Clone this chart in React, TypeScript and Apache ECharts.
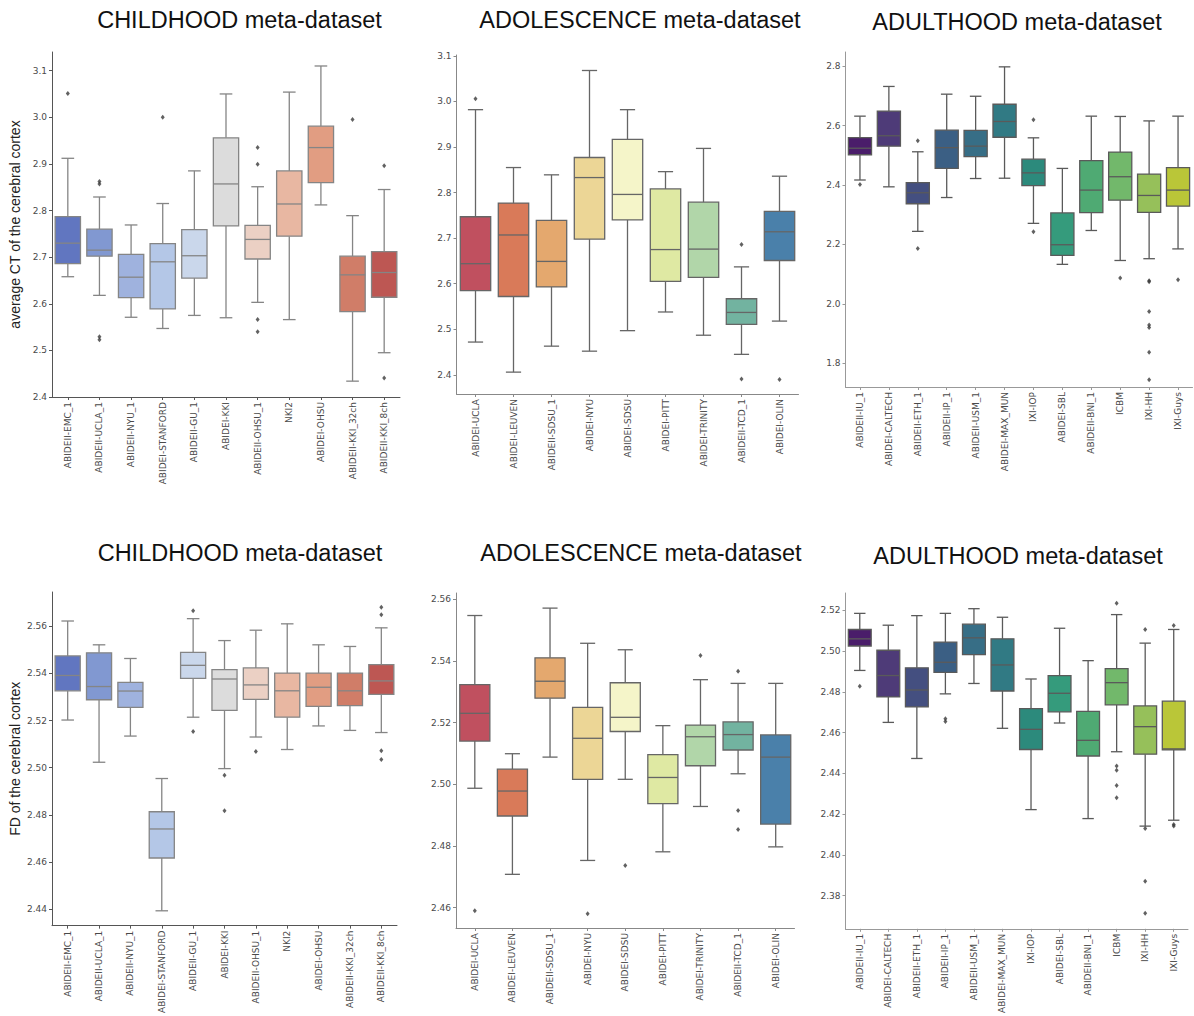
import React, { useEffect, useRef } from 'react';
import * as echarts from 'echarts';

// ---------- categories ----------
const childSites = ['ABIDEII-EMC_1', 'ABIDEII-UCLA_1', 'ABIDEII-NYU_1', 'ABIDEI-STANFORD', 'ABIDEII-GU_1', 'ABIDEI-KKI', 'ABIDEII-OHSU_1', 'NKI2', 'ABIDEI-OHSU', 'ABIDEII-KKI_32ch', 'ABIDEII-KKI_8ch'];
const adolSites = ['ABIDEI-UCLA', 'ABIDEI-LEUVEN', 'ABIDEII-SDSU_1', 'ABIDEI-NYU', 'ABIDEI-SDSU', 'ABIDEI-PITT', 'ABIDEI-TRINITY', 'ABIDEII-TCD_1', 'ABIDEI-OLIN'];
const adultSites = ['ABIDEII-IU_1', 'ABIDEI-CALTECH', 'ABIDEII-ETH_1', 'ABIDEII-IP_1', 'ABIDEII-USM_1', 'ABIDEI-MAX_MUN', 'IXI-IOP', 'ABIDEI-SBL', 'ABIDEII-BNI_1', 'ICBM', 'IXI-HH', 'IXI-Guys'];

// ---------- box stats: [min whisker, Q1, median, Q3, max whisker] ----------
const childCT = [
  [2.658, 2.686, 2.730, 2.787, 2.912],
  [2.618, 2.702, 2.715, 2.760, 2.829],
  [2.571, 2.613, 2.657, 2.706, 2.769],
  [2.547, 2.589, 2.690, 2.729, 2.815],
  [2.575, 2.655, 2.703, 2.759, 2.885],
  [2.570, 2.767, 2.857, 2.956, 3.050],
  [2.603, 2.696, 2.738, 2.768, 2.851],
  [2.566, 2.745, 2.814, 2.885, 3.054],
  [2.812, 2.860, 2.935, 2.981, 3.110],
  [2.434, 2.583, 2.662, 2.702, 2.789],
  [2.495, 2.614, 2.667, 2.712, 2.845],
];
const childCTOut = [[0, 3.051], [1, 2.862], [1, 2.857], [1, 2.529], [1, 2.523], [3, 3.0], [6, 2.935], [6, 2.899], [6, 2.566], [6, 2.540], [9, 2.995], [10, 2.896], [10, 2.441]];

const adolCT = [
  [2.472, 2.585, 2.644, 2.747, 2.982],
  [2.406, 2.572, 2.707, 2.777, 2.855],
  [2.463, 2.593, 2.649, 2.739, 2.839],
  [2.452, 2.698, 2.833, 2.877, 3.068],
  [2.497, 2.740, 2.796, 2.917, 2.982],
  [2.538, 2.605, 2.675, 2.808, 2.846],
  [2.487, 2.614, 2.676, 2.779, 2.897],
  [2.445, 2.511, 2.537, 2.567, 2.637],
  [2.518, 2.651, 2.714, 2.759, 2.836],
];
const adolCTOut = [[0, 3.006], [7, 2.686], [7, 2.391], [8, 2.390]];

const adultCT = [
  [2.417, 2.502, 2.524, 2.560, 2.632],
  [2.394, 2.531, 2.566, 2.649, 2.732],
  [2.244, 2.337, 2.374, 2.408, 2.512],
  [2.358, 2.456, 2.526, 2.585, 2.706],
  [2.422, 2.496, 2.531, 2.584, 2.699],
  [2.423, 2.561, 2.614, 2.672, 2.798],
  [2.271, 2.398, 2.441, 2.487, 2.559],
  [2.133, 2.163, 2.199, 2.306, 2.456],
  [2.247, 2.307, 2.383, 2.482, 2.632],
  [2.146, 2.349, 2.428, 2.511, 2.631],
  [2.152, 2.308, 2.365, 2.437, 2.616],
  [2.185, 2.329, 2.383, 2.459, 2.632],
];
const adultCTOut = [[0, 2.402], [2, 2.549], [2, 2.186], [6, 2.620], [6, 2.243], [9, 2.087], [10, 2.078], [10, 2.074], [10, 1.974], [10, 1.929], [10, 1.920], [10, 1.837], [10, 1.744], [11, 2.081]];

const childFD = [
  [2.5202, 2.5326, 2.5391, 2.5474, 2.5622],
  [2.5023, 2.5288, 2.5344, 2.5487, 2.5521],
  [2.5134, 2.5256, 2.5325, 2.5362, 2.5463],
  [2.4393, 2.4617, 2.4740, 2.4813, 2.4954],
  [2.5214, 2.5379, 2.5434, 2.5489, 2.5632],
  [2.4996, 2.5243, 2.5376, 2.5416, 2.5539],
  [2.5130, 2.5290, 2.5351, 2.5423, 2.5583],
  [2.5077, 2.5214, 2.5326, 2.5401, 2.5610],
  [2.5177, 2.5260, 2.5341, 2.5401, 2.5521],
  [2.5158, 2.5263, 2.5326, 2.5401, 2.5514],
  [2.5149, 2.5311, 2.5368, 2.5437, 2.5593],
];
const childFDOut = [[4, 2.5666], [4, 2.5153], [5, 2.4968], [5, 2.4817], [6, 2.5069], [10, 2.5680], [10, 2.5648], [10, 2.5072], [10, 2.5035]];

const adolFD = [
  [2.4987, 2.5140, 2.5230, 2.5323, 2.5547],
  [2.4708, 2.4897, 2.4978, 2.5049, 2.5099],
  [2.5088, 2.5279, 2.5334, 2.5410, 2.5571],
  [2.4753, 2.5016, 2.5149, 2.5249, 2.5457],
  [2.5016, 2.5171, 2.5217, 2.5329, 2.5436],
  [2.4781, 2.4937, 2.5022, 2.5096, 2.5190],
  [2.4928, 2.5060, 2.5154, 2.5192, 2.5339],
  [2.5034, 2.5111, 2.5161, 2.5202, 2.5327],
  [2.4797, 2.4871, 2.5088, 2.5160, 2.5327],
];
const adolFDOut = [[0, 2.4590], [3, 2.4580], [4, 2.4737], [6, 2.5417], [7, 2.5366], [7, 2.4915], [7, 2.4853]];

const adultFD = [
  [2.4905, 2.5025, 2.5060, 2.5106, 2.5185],
  [2.4650, 2.4775, 2.4880, 2.5004, 2.5127],
  [2.4473, 2.4726, 2.4809, 2.4918, 2.5174],
  [2.4790, 2.4895, 2.4945, 2.5044, 2.5185],
  [2.4841, 2.4983, 2.5065, 2.5132, 2.5208],
  [2.4621, 2.4804, 2.4932, 2.5060, 2.5166],
  [2.4222, 2.4517, 2.4616, 2.4718, 2.4863],
  [2.4647, 2.4702, 2.4793, 2.4880, 2.5112],
  [2.4178, 2.4485, 2.4562, 2.4704, 2.4953],
  [2.4506, 2.4736, 2.4845, 2.4914, 2.5179],
  [2.4141, 2.4494, 2.4629, 2.4731, 2.5039],
  [2.4170, 2.4515, 2.4520, 2.4754, 2.5106],
];
const adultFDOut = [[0, 2.4828], [3, 2.4668], [3, 2.4655], [9, 2.5235], [9, 2.4436], [9, 2.4415], [9, 2.4340], [9, 2.4280], [10, 2.5106], [10, 2.4129], [10, 2.3870], [10, 2.3714], [11, 2.5125], [11, 2.4149], [11, 2.4141]];

// ---------- tick labels ----------
const ticksChildCT = [2.4, 2.5, 2.6, 2.7, 2.8, 2.9, 3.0, 3.1];
const ticksAdolCT = [2.4, 2.5, 2.6, 2.7, 2.8, 2.9, 3.0, 3.1];
const ticksAdultCT = [1.8, 2.0, 2.2, 2.4, 2.6, 2.8];
const ticksChildFD = [2.44, 2.46, 2.48, 2.50, 2.52, 2.54, 2.56];
const ticksAdolFD = [2.46, 2.48, 2.50, 2.52, 2.54, 2.56];
const ticksAdultFD = [2.38, 2.40, 2.42, 2.44, 2.46, 2.48, 2.50, 2.52];

// ---------- palettes ----------
const coolwarm = ['#6176c0', '#8198d1', '#9fb2de', '#b4c7e7', '#cad7eb', '#dcdcdc', '#ebd0c4', '#e8b7a2', '#e19d82', '#d07d68', '#bd5753'];
const spectral = ['#c0505f', '#d97a59', '#e4a86e', '#ecd696', '#f5f5c9', '#dfe9a3', '#b1d6a9', '#72b3a0', '#4a80aa'];
const viridis = ['#4a1d6a', '#4e3b78', '#444f80', '#3b5f84', '#376e86', '#317a84', '#2c8a7c', '#359b7c', '#4faa73', '#72b86b', '#96c05a', '#bac638'];

const titles = ['CHILDHOOD meta-dataset', 'ADOLESCENCE meta-dataset', 'ADULTHOOD meta-dataset'];

export default function App() {
  const ref = useRef<HTMLDivElement>(null);
  useEffect(() => {
    if (!ref.current) return;
    const chart = echarts.init(ref.current, undefined, { renderer: 'svg' });

    const panels = [
      { grid: { left: 52, top: 52, width: 348, height: 345 }, cats: childSites, stats: childCT, out: childCTOut, colors: coolwarm, min: 2.4, max: 3.14, ticks: ticksChildCT, dec: 1, edge: '#858585', axis: '#555', yName: 'average CT of the cerebral cortex', title: titles[0], tx: 239.5, ty: 20 },
      { grid: { left: 456.5, top: 55, width: 342, height: 339 }, cats: adolSites, stats: adolCT, out: adolCTOut, colors: spectral, min: 2.358, max: 3.102, ticks: ticksAdolCT, dec: 1, edge: '#666666', axis: '#888', yName: '', title: titles[1], tx: 640, ty: 20 },
      { grid: { left: 845.5, top: 52, width: 347, height: 335 }, cats: adultSites, stats: adultCT, out: adultCTOut, colors: viridis, min: 1.72, max: 2.848, ticks: ticksAdultCT, dec: 1, edge: '#5a5a5a', axis: '#999', yName: '', title: titles[2], tx: 1017, ty: 22 },
      { grid: { left: 52, top: 592, width: 345, height: 341 }, cats: childSites, stats: childFD, out: childFDOut, colors: coolwarm, min: 2.433, max: 2.5745, ticks: ticksChildFD, dec: 2, edge: '#858585', axis: '#555', yName: 'FD of the cerebral cortex', title: titles[0], tx: 240, ty: 553 },
      { grid: { left: 456, top: 593, width: 338.5, height: 335 }, cats: adolSites, stats: adolFD, out: adolFDOut, colors: spectral, min: 2.4534, max: 2.562, ticks: ticksAdolFD, dec: 2, edge: '#666666', axis: '#888', yName: '', title: titles[1], tx: 641, ty: 553 },
      { grid: { left: 845.5, top: 593, width: 342.5, height: 339 }, cats: adultSites, stats: adultFD, out: adultFDOut, colors: viridis, min: 2.3637, max: 2.5285, ticks: ticksAdultFD, dec: 2, edge: '#5a5a5a', axis: '#999', yName: '', title: titles[2], tx: 1018, ty: 556 },
    ];

    const grid: any[] = [];
    const xAxis: any[] = [];
    const yAxis: any[] = [];
    const series: any[] = [];
    const graphic: any[] = [];

    panels.forEach((p, i) => {
      grid.push({ ...p.grid, containLabel: false });
      xAxis.push({
        type: 'category', gridIndex: i, data: p.cats, boundaryGap: true,
        axisLine: { show: true, lineStyle: { color: p.axis, width: 1 } },
        axisTick: { show: true, alignWithLabel: true, length: 3, lineStyle: { color: p.axis } },
        axisLabel: { rotate: 90, interval: 0, fontSize: 9, fontFamily: 'DejaVu Sans', color: '#4a4a4a', margin: 5 },
        splitLine: { show: false },
      });
      yAxis.push({
        type: 'value', gridIndex: i, min: p.min, max: p.max,
        splitLine: { show: false },
        axisLine: { show: true, lineStyle: { color: p.axis, width: 1 } },
        axisTick: { show: true, length: 3, customValues: p.ticks, lineStyle: { color: p.axis } },
        axisLabel: { customValues: p.ticks, formatter: (v: number) => v.toFixed(p.dec), fontSize: 9, fontFamily: 'DejaVu Sans', color: '#4a4a4a', margin: 5 },
        name: p.yName, nameLocation: 'middle', nameGap: 30,
        nameTextStyle: { fontSize: 14, fontFamily: 'Liberation Sans', color: '#222' },
      });
      const colors = p.colors;
      const edge = p.edge;
      series.push({
        type: 'custom', xAxisIndex: i, yAxisIndex: i, z: 2,
        data: p.stats.map((s, k) => [k, ...s]),
        encode: { x: 0, y: [1, 2, 3, 4, 5] },
        renderItem: (params: any, api: any) => {
          const idx = api.value(0);
          const band = api.size([1, 0])[0];
          const bw = band * 0.8;
          const pMin = api.coord([idx, api.value(1)]);
          const xC = pMin[0];
          const yMin = pMin[1];
          const yQ1 = api.coord([idx, api.value(2)])[1];
          const yMed = api.coord([idx, api.value(3)])[1];
          const yQ3 = api.coord([idx, api.value(4)])[1];
          const yMax = api.coord([idx, api.value(5)])[1];
          const ls = { stroke: edge, lineWidth: 1.3 };
          const cap = bw / 4;
          return {
            type: 'group',
            children: [
              { type: 'line', shape: { x1: xC, y1: yMax, x2: xC, y2: yQ3 }, style: ls },
              { type: 'line', shape: { x1: xC, y1: yQ1, x2: xC, y2: yMin }, style: ls },
              { type: 'line', shape: { x1: xC - cap, y1: yMax, x2: xC + cap, y2: yMax }, style: ls },
              { type: 'line', shape: { x1: xC - cap, y1: yMin, x2: xC + cap, y2: yMin }, style: ls },
              { type: 'rect', shape: { x: xC - bw / 2, y: yQ3, width: bw, height: yQ1 - yQ3 }, style: { fill: colors[params.dataIndex], stroke: edge, lineWidth: 1.3 } },
              { type: 'line', shape: { x1: xC - bw / 2, y1: yMed, x2: xC + bw / 2, y2: yMed }, style: ls },
            ],
          };
        },
      });
      series.push({
        type: 'scatter', xAxisIndex: i, yAxisIndex: i, z: 3,
        data: p.out, symbol: 'diamond', symbolSize: [4, 5],
        itemStyle: { color: '#3a3a3a' },
      });
      graphic.push({
        type: 'text', x: p.tx, y: p.ty,
        style: { text: p.title, font: '23.5px "Liberation Sans", Arial, sans-serif', fill: '#111', textAlign: 'center', textVerticalAlign: 'middle' },
      });
    });

    chart.setOption({
      animation: false,
      backgroundColor: '#ffffff',
      grid, xAxis, yAxis, series, graphic,
    });
    return () => chart.dispose();
  }, []);
  return <div ref={ref} style={{ position: 'fixed', left: 0, top: 0, width: 1194, height: 1016, background: '#fff' }} />;
}
